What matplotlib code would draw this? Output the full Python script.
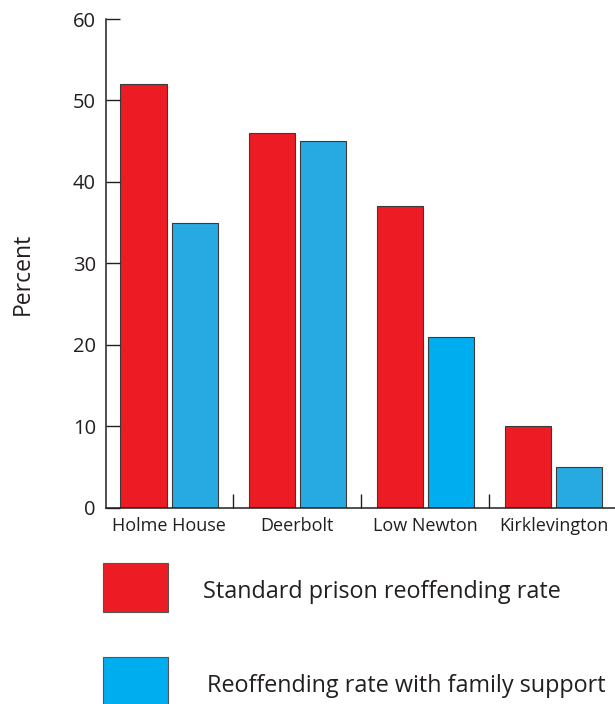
import numpy as np
import matplotlib
matplotlib.use('Agg')
import matplotlib.pyplot as plt
from matplotlib.patches import Rectangle

plt.rcParams['font.family'] = ['Open Sans', 'DejaVu Sans']

# data
prisons = ['Holme House', 'Deerbolt', 'Low Newton', 'Kirklevington']
standard = [52, 46, 37, 10]
family = [35, 45, 21, 5]
series_names = ['Standard prison reoffending rate', 'Reoffending rate with family support']

red = '#ED1C24'
blue = ['#27A9E1', '#27A9E1', '#00AEEF', '#27A9E1']
legend_blue = '#00AEEF'
edge = '#3a3a3a'
ink = '#231f20'

fig = plt.figure(figsize=(6.15, 7.04), dpi=100)
ax = fig.add_axes([0.1719, 0.2791, 0.8281, 0.6939])

x = np.arange(len(prisons))
w = 0.36
ax.bar(x - 0.2, standard, w, color=red, edgecolor=edge, linewidth=0.8)
ax.bar(x + 0.2, family, w, color=blue, edgecolor=edge, linewidth=0.8)

ax.set_xlim(-0.495, 3.48)
ax.set_ylim(0, 60)
ax.set_yticks(range(0, 61, 10))
ax.set_xticks(x)
ax.set_xticklabels(prisons, fontsize=13, color=ink)
ax.set_xticks(x[:-1] + 0.5, minor=True)
ax.tick_params(axis='x', which='major', length=0, pad=7)
ax.tick_params(axis='x', which='minor', direction='in', length=10, width=1, color=ink)
ax.tick_params(axis='y', direction='in', length=10, width=1, pad=7,
               labelsize=14.5, color=ink, labelcolor=ink)
for s in ['top', 'right']:
    ax.spines[s].set_visible(False)
for s in ['left', 'bottom']:
    ax.spines[s].set_linewidth(1.1)
    ax.spines[s].set_color(ink)

fig.text(23 / 615, 1 - 274 / 704, 'Percent', rotation=90, fontsize=16.5,
         ha='center', va='center', color=ink)

# legend drawn by hand, squares on the left and text beside
W, H = 615.0, 704.0
for (y0, y1), col, name, tx in [((563, 612), red, series_names[0], 203),
                               ((657, 706), legend_blue, series_names[1], 207)]:
    fig.patches.append(Rectangle((103 / W, 1 - y1 / H), 65 / W, (y1 - y0) / H,
                                 transform=fig.transFigure, facecolor=col,
                                 edgecolor='#555555', linewidth=0.8))
    fig.text(tx / W, 1 - ((y0 + y1) / 2 + 5) / H, name, fontsize=16.8,
             ha='left', va='center', color=ink)

fig.savefig('out.png', dpi=100)
